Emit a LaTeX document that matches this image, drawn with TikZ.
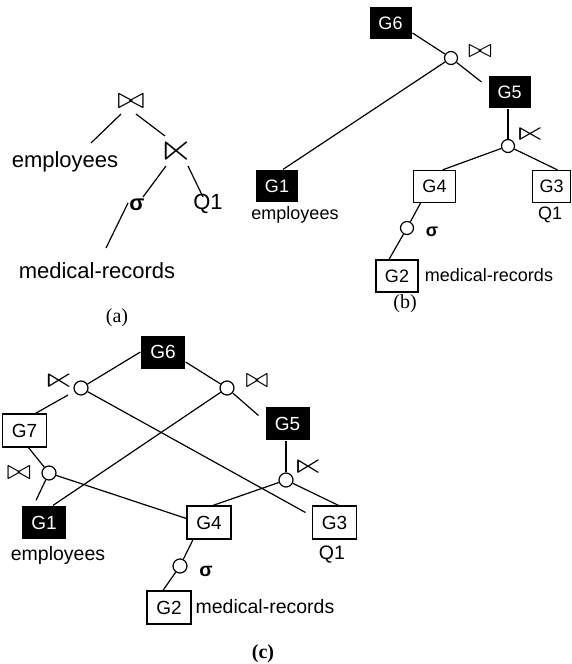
\documentclass[tikz,border=0pt]{standalone}
\usepackage{amssymb}
\usepackage{graphicx}
\usepackage{fontspec}
\setmainfont{Liberation Sans}
\newfontfamily\capfont{Liberation Serif}
\usetikzlibrary{calc}
\newcommand\symjoin[2]{\resizebox{#1pt}{#2pt}{$\bowtie$}}
\newcommand\symsemi[2]{\resizebox{#1pt}{#2pt}{$\ltimes$}}
\begin{document}
\begin{tikzpicture}[x=1pt,y=-1pt,line width=1.2pt,
  bb/.style={fill=black,text=white,inner sep=0pt,minimum width=42pt,minimum height=32pt,font=\fontsize{18}{18}\selectfont},
  bw/.style={draw,fill=white,inner sep=0pt,minimum width=42pt,minimum height=32pt,font=\fontsize{18}{18}\selectfont},
  cb/.style={fill=black,text=white,inner sep=0pt,minimum width=44pt,minimum height=33pt,font=\fontsize{19}{19}\selectfont},
  cw/.style={draw,fill=white,inner sep=0pt,minimum width=44pt,minimum height=33pt,font=\fontsize{19}{19}\selectfont},
  ta/.style={inner sep=0pt,font=\fontsize{22}{22}\selectfont},
  tb/.style={inner sep=0pt,font=\fontsize{18}{18}\selectfont},
  tc/.style={inner sep=0pt,font=\fontsize{19.5}{19.5}\selectfont},
  symnode/.style={inner sep=0pt},
  circ/.style={circle,draw,fill=white,inner sep=0pt,minimum size=13pt},
  captxt/.style={inner sep=0pt,font=\capfont\fontsize{20}{20}\selectfont}]
\useasboundingbox (0,0) rectangle (571,664);

% ---------- (a) ----------
\node[symnode] (aj) at (131,101) {\symjoin{27}{14}};
\node[symnode] (asemi) at (176,151) {\symsemi{36}{22}};
\node[ta] (aemp) at (65,162) {employees};
\node[ta] (asig) at (137,205) {\bfseries σ};
\node[ta] (aq1) at (208,204) {Q1};
\node[ta] (amed) at (97,271) {medical-records};
\node[captxt] (acap) at (117,318) {(a)};
\draw ([shift={(-10,13)}]aj.center) -- ([shift={(26,-19)}]aemp.center);
\draw ([shift={(5,13)}]aj.center) -- ([shift={(-11,-15)}]asemi.center);
\draw ([shift={(-10,15)}]asemi.center) -- ([shift={(6,-8)}]asig.center);
\draw ([shift={(12,15)}]asemi.center) -- ([shift={(-5,-7)}]aq1.center);
\draw ([shift={(-9,-2)}]asig.center) -- ([shift={(9,-23)}]amed.center);

% ---------- (b) ----------
\node[bb] (bG6) at (390.5,23) {G6};
\node[circ] (bc1) at (451,58) {};
\node[symnode] (bjoin) at (480,51) {\symjoin{24}{12}};
\node[bb] (bG5) at (509.5,92) {G5};
\node[bb] (bG1) at (277,186) {G1};
\node[tb] (bemp) at (295,215) {employees};
\node[circ] (bc2) at (508,146) {};
\node[symnode] (bsemi) at (530,134) {\symsemi{35}{15}};
\node[bw] (bG4) at (434.5,186.5) {G4};
\node[bw,minimum width=38pt] (bG3) at (551.5,186.5) {G3};
\node[tb] (bq1) at (550,215) {Q1};
\node[circ] (bc3) at (407,228) {};
\node[tb] (bsig) at (432,232) {\bfseries σ};
\node[bw] (bG2) at (397,276) {G2};
\node[tb] (bmed) at (489,275) {medical-records};
\node[captxt] (bcap) at (405,304) {(b)};
\draw ([shift={(22,10)}]bG6.center) -- (bc1);
\draw (bc1) -- ([shift={(-28,-10)}]bG5.center);
\draw (bc1) -- ([shift={(6,0)}]bG1.north);
\draw (bc2) -- (bc2 |- bG5.south);
\draw (bc2) -- ([shift={(8,0)}]bG4.north);
\draw (bc2) -- ([shift={(6,0)}]bG3.north);
\draw ([shift={(-14,0)}]bG4.south) -- (bc3);
\draw (bc3) -- ([shift={(-8,0)}]bG2.north);

% ---------- (c) ----------
\node[cb] (cG6) at (163,352) {G6};
\node[circ,minimum size=14pt] (cc1) at (81,388) {};
\node[symnode] (csemi1) at (59,381) {\symsemi{35}{16}};
\node[circ,minimum size=14pt] (cc2) at (227,388) {};
\node[symnode] (cjoin2) at (257,381) {\symjoin{23}{13}};
\node[cb] (cG5) at (287.5,423.5) {G5};
\node[cw] (cG7) at (24.5,430.5) {G7};
\node[circ,minimum size=14pt] (cc3) at (286,480) {};
\node[symnode] (csemi3) at (308,467) {\symsemi{35}{16}};
\node[circ,minimum size=14pt] (cc4) at (49,473) {};
\node[symnode] (cjoin4) at (19,473) {\symjoin{24}{13}};
\node[cb] (cG1) at (44,522.5) {G1};
\node[tc] (cemp) at (58,555.5) {employees};
\node[cw] (cG4) at (209,522.5) {G4};
\node[cw] (cG3) at (334.5,522.5) {G3};
\node[tc] (cq1) at (332,555) {Q1};
\node[circ,minimum size=14pt] (cc5) at (180,566) {};
\node[tc] (csig) at (206,571) {\bfseries σ};
\node[cw] (cG2) at (169,607.5) {G2};
\node[tc] (cmed) at (265,607) {medical-records};
\node[captxt,font=\capfont\bfseries\fontsize{20}{20}\selectfont] (ccap) at (263,654) {(c)};
\draw (cG6.west) -- (cc1);
\draw ([shift={(-13,7)}]cc1.center) -- ([shift={(11,0)}]cG7.north);
\draw (cc1) -- ([shift={(-29,-10)}]cG3.center);
\draw ([shift={(0,10)}]cG6.east) -- (cc2);
\draw (cc2) -- ([shift={(-29,-8)}]cG5.center);
\draw (cc2) -- ([shift={(9,0)}]cG1.north);
\draw (cc3) -- (cc3 |- cG5.south);
\draw (cc3) -- ([shift={(4,0)}]cG4.north);
\draw (cc3) -- ([shift={(4,0)}]cG3.north);
\draw ([shift={(4,0)}]cG7.south) -- (cc4);
\draw (cc4) -- ([shift={(-8,-5)}]cG1.north);
\draw (cc4) -- ([shift={(0,-4)}]cG4.west);
\draw ([shift={(-16,0)}]cG4.south) -- (cc5);
\draw (cc5) -- ([shift={(-6,0)}]cG2.north);
\end{tikzpicture}
\end{document}
